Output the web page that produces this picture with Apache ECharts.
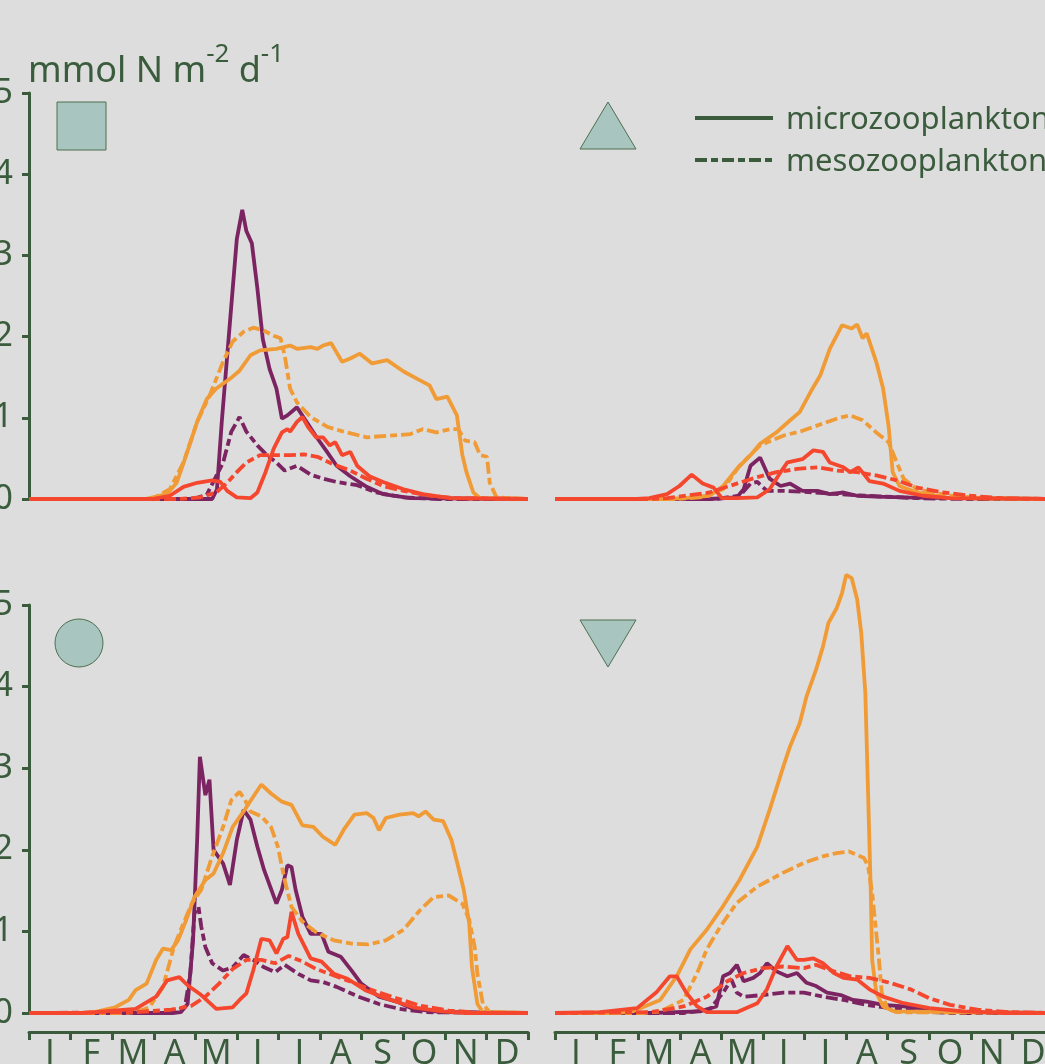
<!DOCTYPE html>
<html>
<head>
<meta charset="utf-8">
<script src="https://cdn.jsdelivr.net/npm/echarts@6.0.0/dist/echarts.min.js"></script>
<style>
html,body{margin:0;padding:0;background:#dddddd;overflow:hidden;}
#main{width:1045px;height:1064px;}
</style>
</head>
<body>
<div id="main"></div>
<script>
// month labels for the bottom axes
var months=['J','F','M','A','M','J','J','A','S','O','N','D'];
var yTicks=[0,1,2,3,4,5];

// panel 1 (square) -- [day of year, mmol N m-2 d-1]
var sqMicroPurple=[[0,0],[134,0],[137.5,0.12],[141,0.95],[147,2.18],[152,3.2],[156,3.56],[159,3.3],[163,3.15],[167,2.6],[171,1.97],[176,1.6],[181,1.36],[185,0.99],[189,1.03],[196,1.13],[203,0.95],[210,0.77],[218,0.58],[225,0.41],[235,0.28],[247,0.15],[259,0.06],[279,0.01],[365,0]];
var sqMesoPurple=[[0,0],[120,0],[130,0.05],[136,0.25],[142,0.45],[148,0.83],[154,1.01],[159,0.83],[167,0.66],[174,0.54],[181,0.45],[187,0.35],[196,0.41],[206,0.3],[215,0.25],[225,0.21],[240,0.17],[254,0.08],[274,0.02],[300,0],[365,0]];
var sqMicroRed=[[0,0],[90,0],[103,0.04],[113,0.15],[123,0.2],[134,0.23],[140,0.21],[145,0.1],[152,0.02],[162,0.01],[167,0.08],[173,0.33],[179,0.62],[185,0.82],[189,0.86],[191,0.83],[196,0.95],[200,1.01],[204,0.89],[210,0.76],[215,0.76],[220,0.66],[224,0.7],[229,0.54],[235,0.58],[240,0.41],[249,0.28],[259,0.21],[274,0.12],[288,0.06],[308,0.01],[365,0]];
var sqMesoRed=[[0,0],[110,0],[125,0.02],[137,0.08],[145,0.2],[152,0.33],[159,0.45],[169,0.54],[181,0.54],[191,0.54],[201,0.55],[211,0.52],[222,0.43],[235,0.35],[247,0.25],[259,0.16],[274,0.1],[293,0.04],[313,0.01],[365,0]];
var sqMicroOrange=[[0,0],[85,0],[101,0.06],[108,0.2],[115,0.54],[123,0.95],[130,1.23],[137,1.36],[147,1.48],[154,1.58],[162,1.77],[169,1.83],[181,1.85],[191,1.89],[196,1.85],[206,1.87],[211,1.85],[215,1.89],[221,1.92],[229,1.69],[235,1.73],[242,1.79],[251,1.67],[262,1.71],[274,1.57],[284,1.48],[293,1.4],[298,1.23],[306,1.26],[313,1.03],[317,0.54],[320,0.33],[325,0.08],[330,0.01],[365,0]];
var sqMesoOrange=[[0,0],[90,0],[103,0.12],[113,0.45],[123,0.95],[132,1.27],[142,1.69],[149,1.94],[157,2.06],[164,2.11],[171,2.08],[179,2.01],[184,1.98],[187,1.77],[191,1.36],[196,1.19],[206,1.01],[218,0.89],[230,0.83],[247,0.76],[264,0.78],[279,0.8],[288,0.86],[298,0.82],[308,0.86],[314,0.86],[319,0.72],[326,0.7],[330,0.54],[335,0.52],[337,0.2],[342,0.02],[365,0]];

// panel 2 (triangle)
var trMicroPurple=[[0,0],[113,0],[133,0.02],[138,0.12],[143,0.41],[150,0.51],[157,0.25],[165,0.16],[172,0.19],[181,0.1],[192,0.1],[201,0.06],[211,0.08],[221,0.04],[235,0.03],[255,0.02],[289,0.01],[365,0]];
var trMesoPurple=[[0,0],[118,0],[135,0.04],[143,0.19],[148,0.21],[155,0.1],[167,0.1],[181,0.09],[199,0.07],[216,0.05],[240,0.03],[265,0.01],[300,0],[365,0]];
var trMicroRed=[[0,0],[60,0],[69,0.01],[82,0.06],[91,0.16],[100,0.3],[108,0.19],[116,0.14],[122,0.01],[133,0.01],[148,0.02],[157,0.12],[165,0.33],[170,0.45],[181,0.49],[189,0.6],[196,0.58],[201,0.45],[211,0.39],[216,0.33],[222,0.39],[230,0.22],[240,0.19],[252,0.1],[269,0.04],[289,0.01],[365,0]];
var trMesoRed=[[0,0],[70,0],[82,0.01],[113,0.08],[133,0.19],[148,0.27],[162,0.33],[177,0.37],[192,0.39],[206,0.35],[221,0.33],[235,0.29],[250,0.23],[265,0.14],[284,0.08],[304,0.04],[326,0.01],[365,0]];
var trMicroOrange=[[0,0],[80,0],[94,0.01],[113,0.04],[123,0.16],[133,0.37],[143,0.54],[150,0.68],[162,0.82],[172,0.97],[179,1.07],[187,1.32],[194,1.52],[201,1.85],[210,2.14],[217,2.1],[221,2.15],[225,1.98],[228,2.04],[235,1.69],[240,1.36],[244,0.9],[247,0.33],[252,0.16],[265,0.08],[289,0.01],[365,0]];
var trMesoOrange=[[0,0],[90,0],[106,0.02],[123,0.12],[135,0.41],[150,0.66],[167,0.78],[181,0.84],[196,0.93],[208,1.0],[216,1.03],[225,0.97],[235,0.82],[244,0.7],[250,0.45],[255,0.25],[265,0.12],[289,0.04],[313,0.01],[365,0]];

// panel 3 (circle)
var ciMicroPurple=[[0,0],[105,0],[111,0.01],[116,0.11],[120,0.89],[123,2.12],[125,3.14],[129,2.67],[132,2.86],[135,2.0],[142,1.83],[147,1.57],[152,2.12],[157,2.49],[162,2.37],[167,2.04],[172,1.75],[181,1.34],[185,1.51],[189,1.81],[192,1.79],[195,1.51],[200,1.18],[206,0.97],[214,0.97],[219,0.75],[228,0.69],[236,0.52],[243,0.36],[256,0.2],[269,0.14],[281,0.05],[302,0.01],[365,0]];
var ciMesoPurple=[[0,0],[95,0],[104,0.01],[114,0.07],[118,0.48],[121,1.22],[124,1.3],[126,1.06],[129,0.81],[134,0.61],[142,0.52],[149,0.56],[157,0.71],[164,0.65],[172,0.56],[180,0.5],[187,0.59],[197,0.48],[206,0.4],[215,0.38],[225,0.32],[241,0.2],[256,0.11],[271,0.05],[291,0.01],[365,0]];
var ciMicroRed=[[0,0],[40,0],[48,0.01],[78,0.05],[93,0.2],[101,0.4],[110,0.44],[116,0.34],[126,0.22],[137,0.05],[149,0.07],[154,0.16],[159,0.24],[164,0.52],[170,0.91],[176,0.89],[181,0.73],[186,0.91],[189,0.93],[192,1.24],[197,0.97],[206,0.67],[214,0.63],[223,0.48],[233,0.42],[246,0.28],[261,0.18],[281,0.07],[302,0.02],[320,0],[365,0]];
var ciMesoRed=[[0,0],[78,0.01],[104,0.04],[119,0.09],[129,0.2],[139,0.36],[149,0.54],[159,0.65],[170,0.65],[180,0.61],[190,0.7],[200,0.63],[210,0.54],[223,0.46],[236,0.38],[251,0.28],[269,0.18],[286,0.09],[307,0.03],[332,0],[365,0]];
var ciMicroOrange=[[0,0],[40,0],[48,0.01],[63,0.07],[73,0.16],[78,0.28],[86,0.36],[93,0.65],[98,0.79],[104,0.77],[109,0.89],[115,1.14],[121,1.42],[129,1.63],[135,1.71],[142,1.96],[149,2.28],[157,2.47],[164,2.65],[170,2.8],[177,2.69],[185,2.59],[192,2.55],[200,2.3],[208,2.28],[215,2.16],[224,2.06],[230,2.24],[238,2.43],[247,2.45],[252,2.39],[256,2.24],[261,2.39],[271,2.43],[281,2.45],[285,2.41],[290,2.47],[296,2.37],[303,2.35],[309,2.12],[314,1.79],[318,1.51],[322,1.1],[324,0.56],[328,0.11],[332,0.01],[365,0]];
var ciMesoOrange=[[0,0],[70,0],[78,0.01],[88,0.07],[98,0.32],[106,0.81],[112,1.06],[119,1.34],[126,1.51],[134,1.92],[142,2.28],[148,2.61],[154,2.71],[158,2.61],[162,2.47],[170,2.41],[177,2.28],[182,2.04],[187,1.63],[192,1.3],[200,1.12],[210,0.99],[223,0.89],[236,0.85],[248,0.84],[261,0.89],[274,1.02],[286,1.26],[296,1.42],[307,1.44],[317,1.34],[322,1.14],[326,0.81],[328,0.48],[332,0.11],[337,0.01],[365,0]];

// panel 4 (inverted triangle)
var itMicroPurple=[[0,0],[70,0],[106,0.02],[118,0.08],[123,0.45],[128,0.49],[133,0.59],[138,0.39],[145,0.43],[150,0.49],[155,0.61],[162,0.51],[170,0.45],[177,0.49],[184,0.37],[191,0.33],[199,0.25],[209,0.22],[218,0.16],[228,0.14],[240,0.1],[255,0.08],[277,0.04],[301,0.01],[365,0]];
var itMesoPurple=[[0,0],[94,0],[113,0.04],[123,0.25],[129,0.41],[133,0.25],[138,0.2],[152,0.22],[167,0.25],[182,0.25],[196,0.2],[211,0.16],[228,0.1],[245,0.06],[265,0.02],[290,0],[365,0]];
var itMicroRed=[[0,0],[33,0.01],[60,0.06],[74,0.25],[84,0.45],[89,0.45],[96,0.25],[104,0.08],[111,0.01],[133,0.01],[148,0.12],[155,0.29],[162,0.57],[170,0.82],[177,0.65],[182,0.65],[189,0.67],[196,0.61],[204,0.49],[211,0.43],[221,0.41],[230,0.29],[240,0.2],[255,0.12],[274,0.06],[299,0.02],[330,0],[365,0]];
var itMesoRed=[[0,0],[70,0.01],[94,0.08],[111,0.2],[126,0.39],[138,0.49],[152,0.55],[167,0.57],[182,0.55],[191,0.59],[204,0.51],[216,0.45],[230,0.43],[245,0.37],[260,0.29],[274,0.18],[289,0.1],[309,0.04],[333,0.01],[365,0]];
var itMicroOrange=[[0,0],[45,0],[57,0.02],[77,0.16],[89,0.45],[99,0.78],[111,1.02],[123,1.31],[135,1.63],[148,2.04],[157,2.49],[167,3.02],[172,3.27],[179,3.55],[184,3.88],[191,4.21],[196,4.49],[200,4.78],[206,4.96],[210,5.15],[213,5.37],[217,5.33],[221,5.07],[224,4.66],[227,3.92],[229,2.7],[231,1.47],[232,0.65],[235,0.25],[240,0.08],[248,0.02],[365,0]];
var itMesoOrange=[[0,0],[65,0],[77,0.02],[94,0.16],[104,0.49],[111,0.78],[121,1.06],[133,1.35],[148,1.55],[167,1.72],[182,1.84],[196,1.92],[206,1.96],[215,1.98],[226,1.9],[229,1.8],[232,1.47],[234,1.14],[237,0.65],[239,0.25],[243,0.06],[250,0.01],[365,0]];

var green='#3a5c3c';
var purple='#7b2461';
var red='#f4472d';
var orange='#f09b36';
var dash=[12,4,7,4];
var font='"Noto Sans", sans-serif';

// outerBoundsMode none: let labels run off the page edge like the source figure
var grids=[
	{left:29,top:93,width:499,height:406,outerBoundsMode:'none'},
	{left:555,top:93,width:499,height:406,outerBoundsMode:'none'},
	{left:29,top:605,width:499,height:408,outerBoundsMode:'none'},
	{left:555,top:605,width:499,height:408,outerBoundsMode:'none'}
];

function line(data,color,meso,gi){
	return {
		type:'line',data:data,xAxisIndex:gi,yAxisIndex:gi,
		symbol:'none',silent:true,animation:false,clip:false,
		lineStyle:{color:color,width:3.8,type:meso?dash:'solid'}
	};
}

var series=[];
var panels=[
	[sqMicroPurple,sqMesoPurple,sqMicroOrange,sqMesoOrange,sqMicroRed,sqMesoRed],
	[trMicroPurple,trMesoPurple,trMicroOrange,trMesoOrange,trMicroRed,trMesoRed],
	[ciMicroPurple,ciMesoPurple,ciMicroOrange,ciMesoOrange,ciMicroRed,ciMesoRed],
	[itMicroPurple,itMesoPurple,itMicroOrange,itMesoOrange,itMicroRed,itMesoRed]
];
var cols=[purple,purple,orange,orange,red,red];
for(var i=0;i<panels.length;i++){
	for(var j=0;j<6;j++){
		series.push(line(panels[i][j],cols[j],j%2==1,i));
	}
}

var xAxes=[],yAxes=[];
for(var i=0;i<4;i++){
	xAxes.push({type:'value',gridIndex:i,min:0,max:365,show:false});
	var showY=(i==0||i==2);
	yAxes.push({
		type:'value',gridIndex:i,min:0,max:5,interval:1,show:showY,
		axisLine:{show:true,lineStyle:{color:green,width:3}},
		axisTick:{show:true,length:7,lineStyle:{color:green,width:3}},
		axisLabel:{color:green,fontSize:34,fontFamily:font,margin:16,
			formatter:function(v){return yTicks.indexOf(v)>=0?String(v):'';}},
		splitLine:{show:false}
	});
}
// month axes under the two bottom panels
for(var k=2;k<4;k++){
	xAxes.push({
		type:'category',gridIndex:k,data:months,position:'bottom',offset:19,boundaryGap:true,
		axisLine:{onZero:false,lineStyle:{color:green,width:3}},
		axisTick:{show:true,alignWithLabel:false,length:8,lineStyle:{color:green,width:3}},
		axisLabel:{color:green,fontSize:34,fontFamily:font,margin:5,interval:0},
		splitLine:{show:false}
	});
}

var markFill='#a9c5bf',markLine='#4e6e50';
var graphic=[
	{type:'rect',shape:{x:57,y:102,width:49,height:48},style:{fill:markFill,stroke:markLine,lineWidth:1}},
	{type:'polygon',shape:{points:[[608,102],[580,149],[636,149]]},style:{fill:markFill,stroke:markLine,lineWidth:1}},
	{type:'circle',shape:{cx:79,cy:643,r:24},style:{fill:markFill,stroke:markLine,lineWidth:1}},
	{type:'polygon',shape:{points:[[580,620],[636,620],[608,667]]},style:{fill:markFill,stroke:markLine,lineWidth:1}},
	{type:'text',x:28,y:42,style:{
		text:'{b|mmol N m}{s|-2}{b| d}{s|-1}',
		rich:{
			b:{fontSize:36,fontFamily:font,fill:green,verticalAlign:'bottom',lineHeight:48},
			s:{fontSize:26,fontFamily:font,fill:green,verticalAlign:'top',lineHeight:48}
		}
	}},
	{type:'line',shape:{x1:695,y1:118,x2:773,y2:118},style:{stroke:green,lineWidth:3.8}},
	{type:'line',shape:{x1:695,y1:160,x2:773,y2:160},style:{stroke:green,lineWidth:3.8,lineDash:dash}},
	{type:'text',x:786,y:120,style:{text:'microzooplankton',fontSize:31,fontFamily:font,fill:green,verticalAlign:'middle'}},
	{type:'text',x:786,y:162,style:{text:'mesozooplankton',fontSize:31,fontFamily:font,fill:green,verticalAlign:'middle'}}
];

var myChart=echarts.init(document.getElementById('main'),null,{renderer:'canvas'});
myChart.setOption({
	backgroundColor:'#dddddd',
	animation:false,
	grid:grids,
	xAxis:xAxes,
	yAxis:yAxes,
	series:series,
	graphic:graphic
});
</script>
</body>
</html>
